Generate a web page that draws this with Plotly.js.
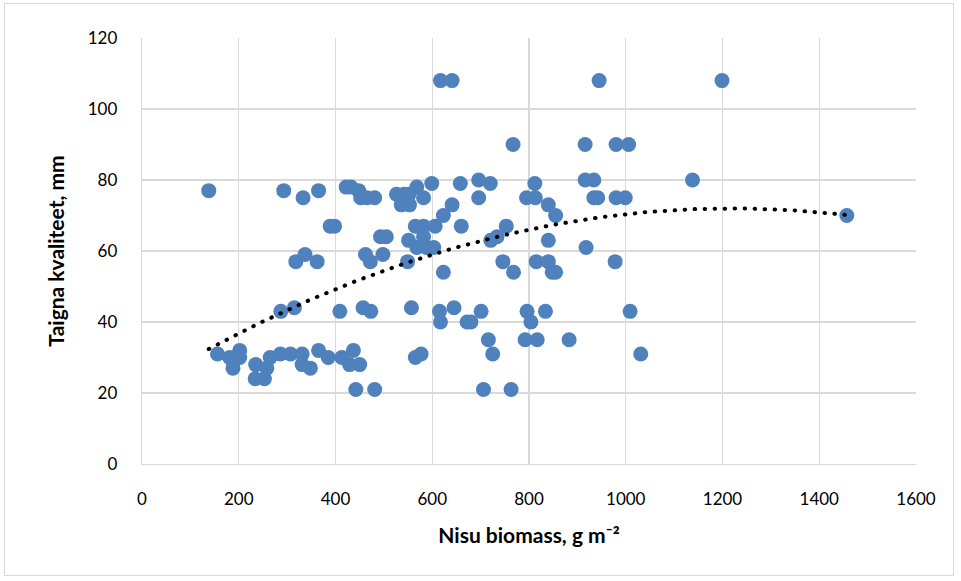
<!DOCTYPE html>
<html>
<head>
<meta charset="utf-8">
<script src="https://cdn.plot.ly/plotly-3.0.1.min.js"></script>
<style>
  html, body { margin: 0; padding: 0; background: #fff; }
  #frame { position: absolute; left: 4px; top: 3px; width: 950px; height: 573px; border: 1px solid #d9d9d9; box-sizing: border-box; pointer-events: none; }
  #chart { width: 961px; height: 581px; }
  .scatterlayer .js-line { stroke-linecap: round; }
</style>
</head>
<body>
<div id="chart"></div>
<div id="frame"></div>
<script>
// Nisu biomass (g m-2) against taigna kvaliteet (mm), one point per sample
const biomass = [
  617, 641, 945, 1199,
  767, 916, 980, 1006,
  916, 934, 1138, 696,
  599, 658, 720, 812,
  422, 432, 568,
  138, 293, 365, 448,
  526, 542, 552,
  333, 452, 465, 481, 582, 696, 795, 813, 934, 942, 980, 999,
  536, 553, 641, 840,
  623, 855, 1457,
  389, 398, 565, 582, 606, 660, 753,
  493, 505, 582, 734,
  551, 721, 840,
  568, 588, 603, 918,
  462, 498, 337,
  318, 362, 472, 549, 746, 815, 840, 978,
  623, 768, 848, 855,
  287, 315, 409, 457, 473, 557, 615, 645, 701, 796, 834, 1009,
  617, 672, 680, 804,
  716, 792, 817, 883,
  725, 1031, 577, 565,
  156, 181, 202, 202, 188, 235, 258, 234, 253, 265, 286, 307, 331, 331, 348, 365, 385, 413, 429, 450, 437,
  442, 481, 706, 763
];
const quality = [
  108, 108, 108, 108,
  90, 90, 90, 90,
  80, 80, 80, 80,
  79, 79, 79, 79,
  78, 78, 78,
  77, 77, 77, 77,
  76, 76, 76,
  75, 75, 75, 75, 75, 75, 75, 75, 75, 75, 75, 75,
  73, 73, 73, 73,
  70, 70, 70,
  67, 67, 67, 67, 67, 67, 67,
  64, 64, 64, 64,
  63, 63, 63,
  61, 61, 61, 61,
  59, 59, 59,
  57, 57, 57, 57, 57, 57, 57, 57,
  54, 54, 54, 54,
  43, 44, 43, 44, 43, 44, 43, 44, 43, 43, 43, 43,
  40, 40, 40, 40,
  35, 35, 35, 35,
  31, 31, 31, 30,
  31, 30, 32, 30, 27, 28, 27, 24, 24, 30, 31, 31, 31, 28, 27, 32, 30, 30, 28, 28, 32,
  21, 21, 21, 21
];

const xTicks = [0, 200, 400, 600, 800, 1000, 1200, 1400, 1600];
const yTicks = [0, 20, 40, 60, 80, 100, 120];

// Polynomial (order 2) trendline: y = c0 + c1*x + c2*x^2
const trendCoef = [21.65, 0.08255, -0.00003383];

const xMin = Math.min(...biomass), xMax = Math.max(...biomass);
const trendX = [], trendY = [];
for (let i = 0; i <= 200; i++) {
  const x = xMin + (xMax - xMin) * i / 200;
  trendX.push(x);
  trendY.push(trendCoef[0] + trendCoef[1] * x + trendCoef[2] * x * x);
}

const font = "Lato, 'Noto Sans', sans-serif";

const traces = [
  {
    type: 'scatter', mode: 'markers', x: biomass, y: quality,
    marker: { color: '#4f81bd', size: 15, line: { width: 0 } },
    hoverinfo: 'x+y', showlegend: false
  },
  {
    type: 'scatter', mode: 'lines', x: trendX, y: trendY,
    line: { color: '#000000', width: 4, dash: '0.5px,9.5px' },
    hoverinfo: 'skip', showlegend: false
  }
];

const layout = {
  width: 961, height: 581,
  margin: { l: 142, r: 45, t: 38, b: 117 },
  paper_bgcolor: '#ffffff', plot_bgcolor: '#ffffff',
  font: { family: font, size: 17, color: '#000000' },
  xaxis: {
    range: [0, 1600], tickvals: xTicks, ticktext: xTicks.map(String),
    showgrid: true, gridcolor: '#d9d9d9', gridwidth: 1.3,
    zeroline: false, showline: true, linecolor: '#d9d9d9', linewidth: 1.3,
    ticks: '', ticklabelstandoff: 19, mirror: false,
    title: { text: '<b>Nisu biomass, g m⁻²</b>', font: { family: font, size: 21 }, standoff: 20 }
  },
  yaxis: {
    range: [0, 120], tickvals: yTicks, ticktext: yTicks.map(String),
    showgrid: true, gridcolor: '#d9d9d9', gridwidth: 1.3,
    zeroline: false, showline: true, linecolor: '#d9d9d9', linewidth: 1.3,
    ticks: '', ticklabelstandoff: 20,
    title: { text: '<b>Taigna kvaliteet, mm</b>', font: { family: font, size: 21 }, standoff: 17 }
  }
};

Plotly.newPlot('chart', traces, layout, { displayModeBar: false, staticPlot: true });
</script>
</body>
</html>
